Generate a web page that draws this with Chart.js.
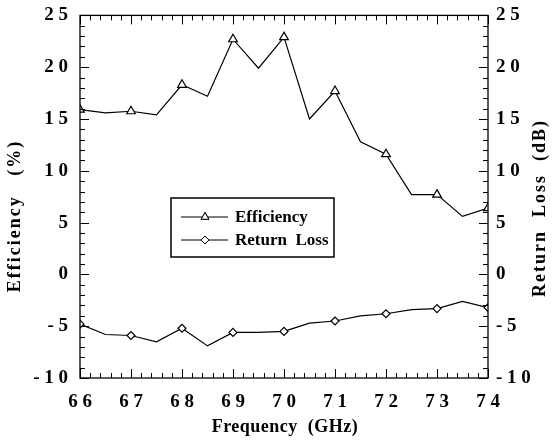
<!DOCTYPE html>
<html>
<head>
<meta charset="utf-8">
<script src="https://cdn.jsdelivr.net/npm/chart.js@4.4.0/dist/chart.umd.min.js"></script>
<style>
  html, body { margin: 0; padding: 0; background: #fff; }
</style>
</head>
<body>
<canvas id="chart" width="555" height="445"></canvas>
<script>
// measured every 0.5 GHz, markers only on whole GHz
const freq = [66, 66.5, 67, 67.5, 68, 68.5, 69, 69.5, 70, 70.5, 71, 71.5, 72, 72.5, 73, 73.5, 74];
const efficiency = [15.9, 15.6, 15.75, 15.4, 18.3, 17.2, 22.7, 19.9, 22.9, 15.0, 17.7, 12.8, 11.6, 7.7, 7.7, 5.6, 6.4];
const returnLoss = [-4.8, -5.8, -5.9, -6.5, -5.2, -6.9, -5.6, -5.6, -5.5, -4.7, -4.5, -4.0, -3.8, -3.4, -3.3, -2.6, -3.2];

const xRange = [66, 74];
const yRange = [-10, 25];

const serif = '"Liberation Serif", "Times New Roman", serif';

// "25" -> "2 5", like the typeset axis numbers
const spaced = v => String(v).split('').join(' ');

const marked = freq.map(f => Number.isInteger(f));

// frame box with inward major/minor ticks on all four sides
const frameTicks = {
  id: 'frameTicks',
  afterDraw(chart) {
    const { ctx, chartArea: a, scales } = chart;
    ctx.save();
    ctx.strokeStyle = '#000';
    ctx.lineWidth = 1.3;
    ctx.strokeRect(a.left, a.top, a.right - a.left, a.bottom - a.top);
    ctx.lineWidth = 1;
    ctx.beginPath();
    for (let i = 0; i <= (xRange[1] - xRange[0]) * 5; i++) {
      const px = Math.round(scales.x.getPixelForValue(xRange[0] + i * 0.2)) + 0.5;
      const len = i % 5 === 0 ? 9 : 5;
      ctx.moveTo(px, a.bottom); ctx.lineTo(px, a.bottom - len);
      ctx.moveTo(px, a.top); ctx.lineTo(px, a.top + len);
    }
    for (let v = yRange[0]; v <= yRange[1]; v++) {
      const py = Math.round(scales.y.getPixelForValue(v)) + 0.5;
      const len = v % 5 === 0 ? 9 : 5;
      ctx.moveTo(a.left, py); ctx.lineTo(a.left + len, py);
      ctx.moveTo(a.right, py); ctx.lineTo(a.right - len, py);
    }
    ctx.stroke();
    ctx.restore();
  }
};

// axis titles, drawn with letter spacing
const axisTitles = {
  id: 'axisTitles',
  afterDraw(chart) {
    const { ctx, chartArea: a } = chart;
    ctx.save();
    ctx.fillStyle = '#000';
    ctx.font = 'bold 18px ' + serif;
    ctx.textAlign = 'center';
    ctx.textBaseline = 'middle';
    ctx.letterSpacing = '0.5px';
    ctx.fillText('Frequency  (GHz)', (a.left + a.right) / 2 + 1, 427);

    ctx.letterSpacing = '2px';
    ctx.translate(15, 216);
    ctx.rotate(-Math.PI / 2);
    ctx.fillText('Efficiency   (%)', 0, 0);
    ctx.restore();

    ctx.save();
    ctx.fillStyle = '#000';
    ctx.font = 'bold 18px ' + serif;
    ctx.textAlign = 'center';
    ctx.textBaseline = 'middle';
    ctx.letterSpacing = '2px';
    ctx.translate(540, 208);
    ctx.rotate(-Math.PI / 2);
    ctx.fillText('Return  Loss  (dB)', 0, 0);
    ctx.restore();
  }
};

// boxed legend inside the plot
const boxLegend = {
  id: 'boxLegend',
  afterDraw(chart) {
    const { ctx } = chart;
    const box = { x: 171, y: 198, w: 163, h: 59 };
    ctx.save();
    ctx.fillStyle = '#fff';
    ctx.fillRect(box.x, box.y, box.w, box.h);
    ctx.strokeStyle = '#000';
    ctx.lineWidth = 1.5;
    ctx.strokeRect(box.x, box.y, box.w, box.h);
    ctx.font = 'bold 17px ' + serif;
    ctx.textBaseline = 'middle';
    ctx.fillStyle = '#000';
    chart.data.datasets.forEach((ds, i) => {
      const y = box.y + 19 + i * 23;
      ctx.lineWidth = 1;
      ctx.beginPath();
      ctx.moveTo(box.x + 10, y);
      ctx.lineTo(box.x + 57, y);
      ctx.stroke();
      Chart.helpers.drawPoint(ctx, {
        pointStyle: ds.pointStyle,
        radius: ds.legendRadius,
        borderWidth: 1.2,
        rotation: 0
      }, box.x + 34, y);
      ctx.fillStyle = '#fff';
      ctx.fill();
      ctx.stroke();
      ctx.fillStyle = '#000';
      ctx.fillText(ds.label, box.x + 64, y + 1);
    });
    ctx.restore();
  }
};

const tickFont = { family: serif, size: 19, weight: 'bold' };

new Chart(document.getElementById('chart'), {
  type: 'line',
  data: {
    datasets: [
      {
        label: 'Efficiency',
        data: freq.map((f, i) => ({ x: f, y: efficiency[i] })),
        yAxisID: 'y',
        borderColor: '#000',
        borderWidth: 1.2,
        pointStyle: 'triangle',
        legendRadius: 4.5,
        pointRadius: marked.map(m => m ? 5 : 0),
        pointBorderColor: '#000',
        pointBackgroundColor: '#fff',
        pointBorderWidth: 1.2,
        tension: 0
      },
      {
        label: 'Return  Loss',
        data: freq.map((f, i) => ({ x: f, y: returnLoss[i] })),
        yAxisID: 'y1',
        borderColor: '#000',
        borderWidth: 1.2,
        pointStyle: 'rectRot',
        legendRadius: 4,
        pointRadius: marked.map(m => m ? 4 : 0),
        pointBorderColor: '#000',
        pointBackgroundColor: '#fff',
        pointBorderWidth: 1.2,
        tension: 0
      }
    ]
  },
  options: {
    responsive: false,
    animation: false,
    layout: { padding: { top: 12, left: 0, right: 0, bottom: 0 } },
    plugins: {
      legend: { display: false },
      tooltip: { enabled: false }
    },
    scales: {
      x: {
        type: 'linear',
        min: xRange[0],
        max: xRange[1],
        grid: { display: false },
        border: { display: false },
        ticks: {
          stepSize: 1,
          color: '#000',
          font: tickFont,
          padding: 5,
          maxRotation: 0,
          callback: v => spaced(v)
        },
        afterFit: s => { s.height = 67; }
      },
      y: {
        position: 'left',
        min: yRange[0],
        max: yRange[1],
        grid: { display: false },
        border: { display: false },
        ticks: {
          stepSize: 5,
          color: '#000',
          font: tickFont,
          padding: 4,
          callback: v => spaced(v)
        },
        afterFit: s => { s.width = 80; }
      },
      y1: {
        position: 'right',
        min: yRange[0],
        max: yRange[1],
        grid: { display: false },
        border: { display: false },
        ticks: {
          stepSize: 5,
          color: '#000',
          font: tickFont,
          padding: 0,
          callback: v => spaced(v)
        },
        afterFit: s => { s.width = 67; }
      }
    }
  },
  plugins: [frameTicks, axisTitles, boxLegend]
});
</script>
</body>
</html>
